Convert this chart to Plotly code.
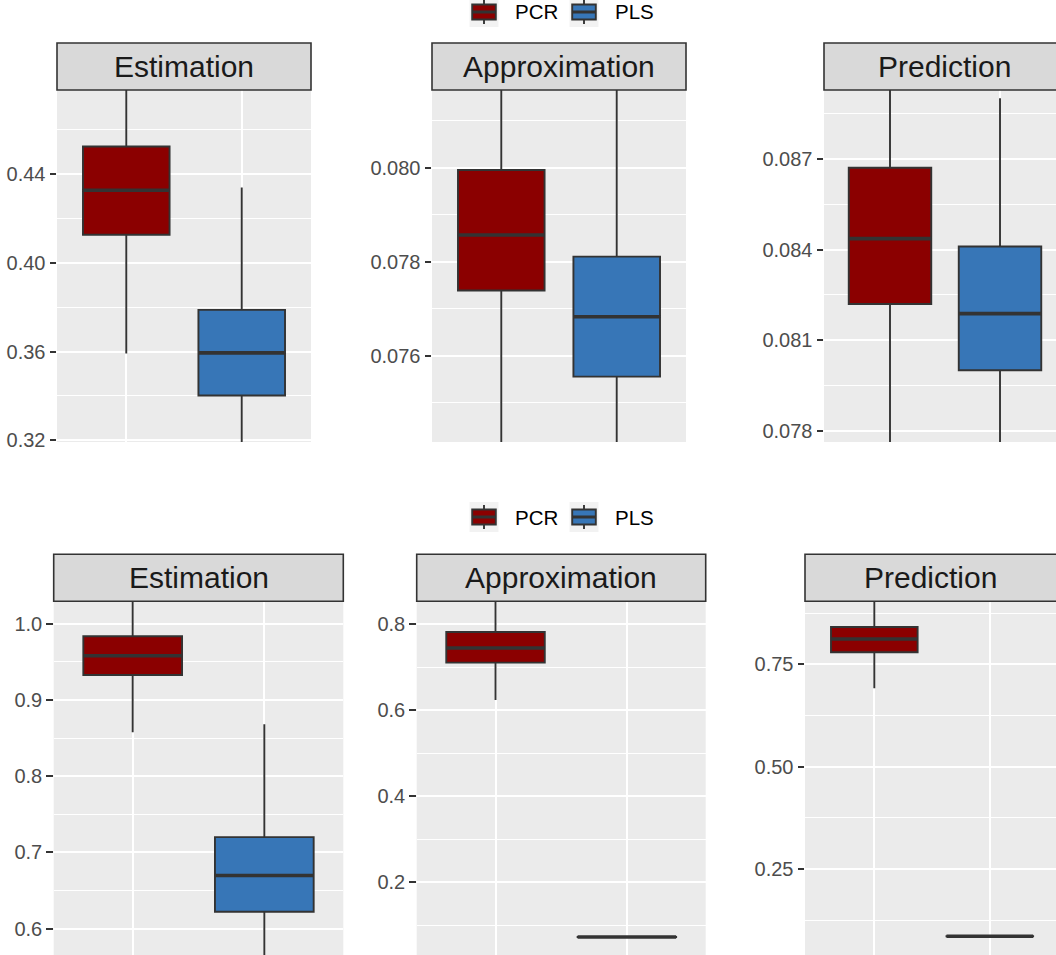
import plotly.graph_objects as go

# ---------------- data ----------------
facets = ["Estimation", "Approximation", "Prediction"]
methods = ["PCR", "PLS"]
method_colors = ["#8B0000", "#3776B7"]

# top row: box statistics per facet (Estimation, Approximation, Prediction)
row1_pcr_lower = [0.3591, 0.0735, 0.0765]
row1_pcr_q1 = [0.4125, 0.07739, 0.0822]
row1_pcr_median = [0.4325, 0.07857, 0.08436]
row1_pcr_q3 = [0.4522, 0.07995, 0.0867]
row1_pcr_upper = [0.490, 0.0825, 0.0905]
row1_pls_lower = [0.300, 0.0730, 0.0760]
row1_pls_q1 = [0.3402, 0.07556, 0.08001]
row1_pls_median = [0.3594, 0.07683, 0.08188]
row1_pls_q3 = [0.3787, 0.07811, 0.0841]
row1_pls_upper = [0.4337, 0.0823, 0.0890]

# bottom row
row2_pcr_lower = [0.8576, 0.6232, 0.6914]
row2_pcr_q1 = [0.9327, 0.7102, 0.7793]
row2_pcr_median = [0.958, 0.7443, 0.8118]
row2_pcr_q3 = [0.9835, 0.7814, 0.8411]
row2_pcr_upper = [1.05, 0.87, 0.93]
row2_pls_lower = [0.53, 0.0726, 0.0853]
row2_pls_q1 = [0.6223, 0.0729, 0.0855]
row2_pls_median = [0.6698, 0.0730, 0.0856]
row2_pls_q3 = [0.7201, 0.0731, 0.0857]
row2_pls_upper = [0.8681, 0.0734, 0.0859]

row1_ticks = [[0.32, 0.36, 0.40, 0.44], [0.076, 0.078, 0.080], [0.078, 0.081, 0.084, 0.087]]
row1_ticklabels = [["0.32", "0.36", "0.40", "0.44"], ["0.076", "0.078", "0.080"],
                   ["0.078", "0.081", "0.084", "0.087"]]
row1_minor = [[0.34, 0.38, 0.42, 0.46], [0.075, 0.077, 0.079, 0.081], [0.0795, 0.0825, 0.0855, 0.0885]]
row1_yrange = [[0.3193, 0.4776], [0.07417, 0.08165], [0.07764, 0.08927]]

row2_ticks = [[0.6, 0.7, 0.8, 0.9, 1.0], [0.2, 0.4, 0.6, 0.8], [0.25, 0.50, 0.75]]
row2_ticklabels = [["0.6", "0.7", "0.8", "0.9", "1.0"], ["0.2", "0.4", "0.6", "0.8"],
                   ["0.25", "0.50", "0.75"]]
row2_minor = [[0.65, 0.75, 0.85, 0.95], [0.1, 0.3, 0.5, 0.7], [0.125, 0.375, 0.625, 0.875]]
row2_yrange = [[0.5655, 1.0294], [0.0311, 0.8527], [0.0399, 0.9039]]

# ---------------- layout geometry (pixels) ----------------
W, H = 1056, 955
FONT = "Liberation Sans, Arial, sans-serif"
# panel boxes: (left, right, top, bottom) and x-range in category units
panels = [
    (57, 311, 90, 442, [-0.6, 1.6]),
    (432, 686, 90, 442, [-0.6, 1.6]),
    (824, 1056, 90, 442, [-0.6, 1.509]),
    (53.7, 343.3, 601.3, 955, [-0.6, 1.6]),
    (416.7, 705.7, 601.3, 955, [-0.6, 1.6]),
    (805, 1056, 601.3, 955, [-0.6, 1.573]),
]
strip_h = 47
strip_text_x = [184, 558.5, 944.3, 198.5, 561.2, 930.3]
legend_y = [12, 517]
LW = 1.9

fig = go.Figure()
layout = dict(
    width=W, height=H, margin=dict(l=0, r=0, t=0, b=0, pad=0, autoexpand=False),
    paper_bgcolor="white", plot_bgcolor="#EBEBEB", showlegend=False,
    font=dict(family=FONT),
)

rows = [
    (row1_pcr_lower, row1_pcr_q1, row1_pcr_median, row1_pcr_q3, row1_pcr_upper,
     row1_pls_lower, row1_pls_q1, row1_pls_median, row1_pls_q3, row1_pls_upper,
     row1_ticks, row1_ticklabels, row1_minor, row1_yrange),
    (row2_pcr_lower, row2_pcr_q1, row2_pcr_median, row2_pcr_q3, row2_pcr_upper,
     row2_pls_lower, row2_pls_q1, row2_pls_median, row2_pls_q3, row2_pls_upper,
     row2_ticks, row2_ticklabels, row2_minor, row2_yrange),
]

shapes = []
annotations = []
box_width = 0.75
for r, rowdata in enumerate(rows):
    (pcl, pq1, pmed, pq3, pup, lcl, lq1, lmed, lq3, lup, ticks, tlabels, minor, yr) = rowdata
    stats = [(pcl, pq1, pmed, pq3, pup), (lcl, lq1, lmed, lq3, lup)]
    for f in range(3):
        k = r * 3 + f
        idx = "" if k == 0 else str(k + 1)
        xa, ya = "x" + idx, "y" + idx
        left, right, top, bottom, xr = panels[k]
        layout["xaxis" + idx] = dict(
            domain=[left / W, min(right / W, 1)], range=xr, anchor=ya,
            tickvals=[0, 1], showticklabels=False, ticks="", automargin=False,
            showgrid=True, gridcolor="white", gridwidth=1.8, zeroline=False, showline=False,
            fixedrange=True,
        )
        layout["yaxis" + idx] = dict(
            domain=[1 - bottom / H, 1 - top / H], range=yr[f], anchor=xa, automargin=False,
            tickvals=ticks[f], ticktext=tlabels[f], ticks="outside", ticklen=6.5,
            tickcolor="#333333", tickwidth=1.8,
            tickfont=dict(size=20, color="#4D4D4D", family=FONT),
            showgrid=True, gridcolor="white", gridwidth=1.8, zeroline=False, showline=False,
            minor=dict(tickvals=minor[f], showgrid=True, gridcolor="white", gridwidth=0.9, ticks=""),
            fixedrange=True,
        )
        for m in range(2):
            lo, q1, med, q3, up = (s[f] for s in stats[m])
            fig.add_trace(go.Box(
                x=[m], q1=[q1], median=[med], q3=[q3], lowerfence=[lo], upperfence=[up],
                width=box_width, whiskerwidth=0, boxpoints=False,
                fillcolor=method_colors[m], line=dict(color="#333333", width=LW),
                name=methods[m], xaxis=xa, yaxis=ya, showlegend=False,
            ))
            fig.add_trace(go.Scatter(
                x=[m - box_width / 2, m + box_width / 2], y=[med, med], mode="lines",
                line=dict(color="#333333", width=3.6), xaxis=xa, yaxis=ya,
                showlegend=False, hoverinfo="skip",
            ))
        # facet strip
        x1 = right / W if right < W else 1.03
        shapes.append(dict(
            type="rect", xref="paper", yref="paper",
            x0=left / W, x1=x1, y0=1 - top / H, y1=1 - (top - strip_h) / H,
            fillcolor="#D9D9D9", line=dict(color="#333333", width=1.6), layer="above",
        ))
        annotations.append(dict(
            xref="paper", yref="paper", x=strip_text_x[k] / W, y=1 - (top - strip_h / 2) / H,
            text=facets[f], showarrow=False, xanchor="center", yanchor="middle",
            font=dict(size=30, color="#1A1A1A", family=FONT),
        ))

# legend (one per row), drawn in ggplot style
key_centers = [484, 584]
text_x = [512.7, 612.7]


def px(x):
    return x / W


def py(y):
    return 1 - y / H


for ly in legend_y:
    for m in range(2):
        cx = key_centers[m]
        shapes.append(dict(type="rect", xref="paper", yref="paper",
                           x0=px(cx - 14.5), x1=px(cx + 14.5), y0=py(ly + 15), y1=py(ly - 15),
                           fillcolor="#F2F2F2", line=dict(width=0), layer="above"))
        shapes.append(dict(type="line", xref="paper", yref="paper",
                           x0=px(cx), x1=px(cx), y0=py(ly + 12), y1=py(ly - 12),
                           line=dict(color="#333333", width=LW), layer="above"))
        shapes.append(dict(type="rect", xref="paper", yref="paper",
                           x0=px(cx - 11.8), x1=px(cx + 11.8), y0=py(ly + 7.5), y1=py(ly - 7.5),
                           fillcolor=method_colors[m], line=dict(color="#333333", width=LW),
                           layer="above"))
        shapes.append(dict(type="line", xref="paper", yref="paper",
                           x0=px(cx - 11.8), x1=px(cx + 11.8), y0=py(ly), y1=py(ly),
                           line=dict(color="#333333", width=3), layer="above"))
        annotations.append(dict(
            xref="paper", yref="paper", x=px(text_x[m]), y=py(ly), text=methods[m],
            showarrow=False, xanchor="left", yanchor="middle",
            font=dict(size=20.5, color="#000000", family=FONT),
        ))

layout["shapes"] = shapes
layout["annotations"] = annotations
fig.update_layout(**layout)
fig.write_html("out.html", config={"displayModeBar": False},
               post_script="document.body.style.margin='0px';")
